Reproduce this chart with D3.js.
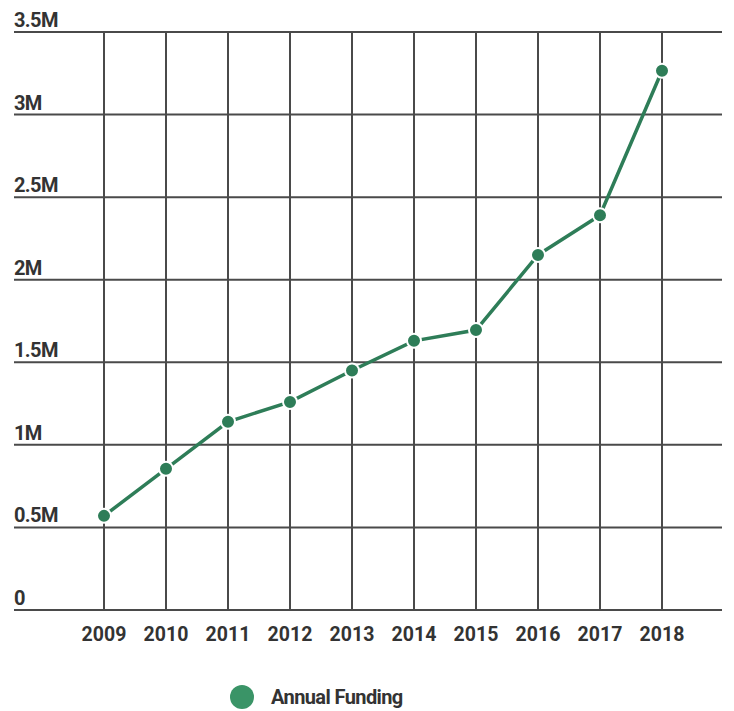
<!DOCTYPE html>
<html><head><meta charset="utf-8">
<script src="https://cdn.jsdelivr.net/npm/d3@7"></script>
<style>body{margin:0;background:#fff;} text{font-family:Roboto,"Noto Sans",sans-serif;font-weight:700;fill:#333;}</style>
</head><body><svg id="c" width="734" height="711"></svg>
<script>
const years = ["2009","2010","2011","2012","2013","2014","2015","2016","2017","2018"];
const funding = [0.57, 0.855, 1.14, 1.26, 1.45, 1.63, 1.695, 2.15, 2.39, 3.265];
const yTicks = [0, 0.5, 1, 1.5, 2, 2.5, 3, 3.5];
const yTickLabels = ["0","0.5M","1M","1.5M","2M","2.5M","3M","3.5M"];
const seriesName = "Annual Funding";

const svg = d3.select("#c");
const x = d3.scalePoint().domain(years).range([104, 662]);
const y = d3.scaleLinear().domain([0, 3.5]).range([610, 32]);
const gridColor = "#4a4a4a";

svg.append("g").selectAll("line").data(yTicks).join("line")
  .attr("x1", 14).attr("x2", 722)
  .attr("y1", d => y(d)).attr("y2", d => y(d))
  .attr("stroke", gridColor).attr("stroke-width", 2);
svg.append("g").selectAll("line").data(years).join("line")
  .attr("x1", d => x(d)).attr("x2", d => x(d))
  .attr("y1", y(3.5)).attr("y2", y(0))
  .attr("stroke", gridColor).attr("stroke-width", 2);

svg.append("g").selectAll("text").data(yTicks).join("text")
  .attr("x", 14).attr("y", d => y(d) - 5)
  .attr("font-size", 20).attr("letter-spacing", -0.6)
  .text((d, i) => yTickLabels[i]);
svg.append("g").selectAll("text").data(years).join("text")
  .attr("x", d => x(d)).attr("y", 641)
  .attr("text-anchor", "middle").attr("font-size", 19.5)
  .text(d => d);

const data = years.map((yr, i) => ({yr, v: funding[i]}));
const lineColor = "#2e7d58";
svg.append("path").datum(data)
  .attr("fill", "none").attr("stroke", lineColor).attr("stroke-width", 3.5)
  .attr("d", d3.line().x(d => x(d.yr)).y(d => y(d.v)));
svg.append("g").selectAll("circle").data(data).join("circle")
  .attr("cx", d => x(d.yr)).attr("cy", d => y(d.v)).attr("r", 7)
  .attr("fill", lineColor).attr("stroke", "#fff").attr("stroke-width", 2);

svg.append("circle").attr("cx", 242).attr("cy", 697).attr("r", 12).attr("fill", "#3a9467");
svg.append("text").attr("x", 271).attr("y", 704).attr("font-size", 20).attr("letter-spacing", -0.6).text(seriesName);
</script></body></html>
